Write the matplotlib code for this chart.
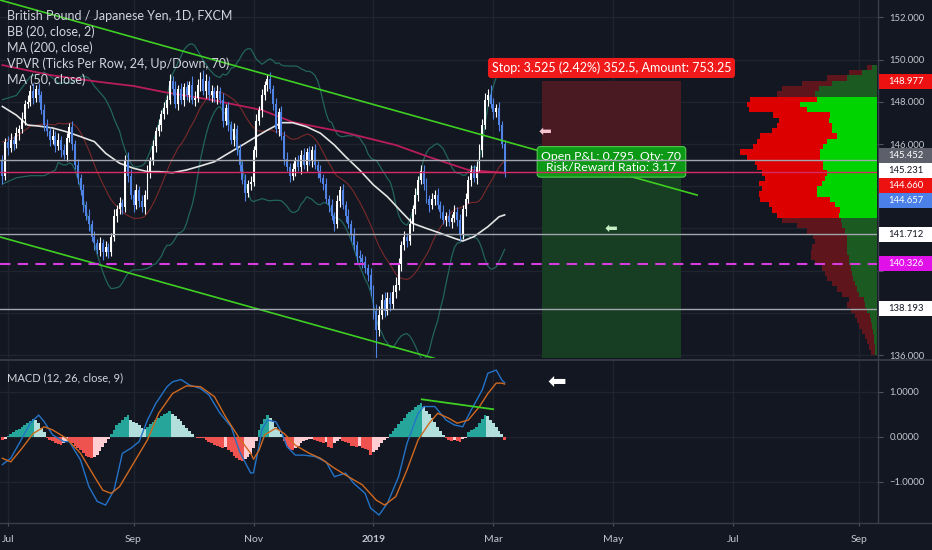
import numpy as np
import pandas as pd
import matplotlib
matplotlib.use('Agg')
import matplotlib.pyplot as plt
from matplotlib.patches import Rectangle
from matplotlib.lines import Line2D

plt.rcParams['font.family'] = ['Lato', 'DejaVu Sans']

# ---------------- data ----------------
open0 = 145.2
closes = [144.5, 146.1, 145.8, 146.2, 146.0, 146.5, 146.7, 147.2, 147.9, 148.0,
          148.5, 148.2, 148.6, 148.3, 147.6, 146.9, 146.6, 146.2, 146.4, 145.9,
          146.2, 145.7, 145.5, 146.3, 146.8, 146.0, 145.0, 144.4, 143.8, 143.1,
          142.6, 142.2, 141.6, 141.3, 141.0, 141.3, 140.9, 141.1, 140.9, 141.6,
          142.6, 142.9, 143.2, 143.0, 145.2, 144.5, 143.6, 143.1, 143.8, 143.3,
          143.0, 143.6, 144.7, 145.2, 145.9, 146.6, 146.9, 147.4, 147.7, 148.1,
          149.0, 148.6, 147.9, 148.6, 148.1, 148.7, 148.3, 148.8, 148.1, 148.2,
          148.8, 149.1, 148.5, 149.0, 148.3, 148.5, 148.2, 148.5, 148.1, 147.1,
          147.7, 146.9, 146.2, 146.7, 145.7, 145.0, 144.3, 143.7, 144.1, 144.2,
          145.7, 147.1, 147.6, 148.3, 148.8, 149.1, 148.6, 147.9, 146.7, 147.5,
          146.4, 145.3, 144.9, 144.5, 144.8, 145.2, 144.9, 145.5, 145.0, 145.6,
          145.2, 145.7, 145.0, 144.7, 144.4, 144.1, 143.4, 143.1, 142.6, 142.2,
          143.3, 143.8, 143.1, 142.6, 142.2, 141.7, 141.2, 140.7, 140.6, 140.4,
          140.1, 139.8, 139.1, 138.1, 137.2, 137.9, 138.6, 138.1, 138.7, 138.4,
          139.0, 139.3, 140.3, 141.2, 141.6, 141.4, 142.2, 142.9, 143.6, 144.3,
          144.7, 144.1, 143.4, 143.1, 143.4, 143.6, 143.1, 142.8, 142.4, 142.6,
          142.3, 142.5, 142.8, 142.4, 141.7, 142.9, 143.4, 144.3, 144.7, 144.4,
          144.9, 145.7, 146.9, 148.1, 148.3, 147.9, 147.5, 147.7, 146.9, 146.0,
          144.657]
wick_up = [0.3, 0.2, 0.3, 0.3, 0.2, 0.3, 0.2, 0.3, 0.2, 0.3,
           0.3, 0.4, 0.2, 0.3, 0.2, 0.3, 0.3, 0.2, 0.3, 0.2,
           0.3, 0.2, 0.3, 0.2, 0.2, 0.3, 0.2, 0.3, 0.2, 0.3,
           0.2, 0.3, 0.2, 0.3, 0.2, 0.3, 0.2, 0.3, 0.2, 0.2,
           0.3, 0.2, 0.3, 0.2, 0.3, 0.4, 0.3, 0.2, 0.3, 0.2,
           0.3, 0.2, 0.3, 0.2, 0.3, 0.2, 0.3, 0.2, 0.3, 0.2,
           0.3, 0.2, 0.4, 0.2, 0.3, 0.2, 0.3, 0.2, 0.4, 0.3,
           0.3, 0.3, 0.4, 0.3, 0.2, 0.3, 0.2, 0.3, 0.2, 0.3,
           0.2, 0.3, 0.2, 0.3, 0.2, 0.3, 0.2, 0.3, 0.2, 0.3,
           0.2, 0.3, 0.2, 0.3, 0.2, 0.2, 0.3, 0.2, 0.3, 0.2,
           0.3, 0.2, 0.3, 0.2, 0.3, 0.2, 0.3, 0.2, 0.3, 0.2,
           0.3, 0.2, 0.3, 0.2, 0.3, 0.2, 0.3, 0.2, 0.3, 0.2,
           0.3, 0.2, 0.3, 0.2, 0.3, 0.2, 0.3, 0.2, 0.3, 0.2,
           0.3, 0.2, 0.3, 0.2, 0.3, 0.4, 0.3, 0.4, 0.3, 0.3,
           0.3, 0.4, 0.3, 0.2, 0.3, 0.2, 0.3, 0.2, 0.3, 0.2,
           0.3, 0.3, 0.3, 0.2, 0.3, 0.2, 0.3, 0.2, 0.3, 0.2,
           0.3, 0.2, 0.3, 0.2, 0.3, 0.2, 0.3, 0.2, 0.3, 0.3,
           0.3, 0.3, 0.3, 0.3, 0.3, 0.5, 0.3, 0.2, 0.3, 0.2, 0.2]
wick_dn = [0.4, 0.2, 0.3, 0.2, 0.3, 0.2, 0.3, 0.2, 0.3, 0.2,
           0.2, 0.3, 0.2, 0.3, 0.2, 0.3, 0.2, 0.3, 0.2, 0.3,
           0.2, 0.3, 0.2, 0.3, 0.2, 0.3, 0.2, 0.3, 0.2, 0.3,
           0.2, 0.3, 0.2, 0.3, 0.2, 0.3, 0.4, 0.2, 0.3, 0.2,
           0.2, 0.3, 0.2, 0.3, 0.2, 0.3, 0.2, 0.3, 0.2, 0.3,
           0.2, 0.3, 0.2, 0.3, 0.2, 0.3, 0.2, 0.3, 0.2, 0.3,
           0.2, 0.3, 0.2, 0.3, 0.2, 0.3, 0.2, 0.3, 0.2, 0.3,
           0.2, 0.3, 0.2, 0.3, 0.2, 0.3, 0.2, 0.3, 0.2, 0.3,
           0.2, 0.3, 0.2, 0.3, 0.2, 0.3, 0.2, 0.4, 0.2, 0.3,
           0.2, 0.3, 0.2, 0.3, 0.2, 0.3, 0.2, 0.3, 0.2, 0.3,
           0.2, 0.3, 0.2, 0.3, 0.2, 0.3, 0.2, 0.3, 0.2, 0.3,
           0.2, 0.3, 0.2, 0.3, 0.2, 0.3, 0.2, 0.3, 0.2, 0.3,
           0.2, 0.3, 0.2, 0.3, 0.2, 0.3, 0.2, 0.3, 0.2, 0.3,
           0.2, 0.3, 0.3, 0.4, 2.5, 0.3, 0.2, 0.3, 0.2, 0.3,
           0.2, 0.3, 0.2, 0.3, 0.2, 0.3, 0.2, 0.3, 0.2, 0.3,
           0.2, 0.3, 0.2, 0.3, 0.2, 0.3, 0.2, 0.3, 0.2, 0.3,
           0.2, 0.3, 0.2, 0.3, 0.3, 0.2, 0.3, 0.2, 0.3, 0.2,
           0.3, 0.2, 0.3, 0.2, 0.3, 0.2, 0.3, 0.2, 0.3, 0.2, 0.2]

# moving averages (bar index, price)
ma50_k = [0, 5, 9, 13, 18, 23, 28, 33, 37, 42, 47, 52, 56, 61, 66, 71, 76, 80, 85, 90,
          95, 100, 104, 109, 114, 119, 123, 128, 133, 138, 143, 147, 152, 157, 162, 165,
          169, 174, 178, 180]
ma50_v = [147.78, 147.37, 146.90, 146.85, 146.76, 146.58, 146.35, 146.11, 145.56, 145.09,
          144.85, 144.69, 144.69, 144.64, 144.77, 144.96, 145.16, 145.48, 145.87, 146.27,
          146.66, 147.01, 147.01, 146.82, 146.51, 145.95, 145.40, 144.77, 144.06, 143.50,
          142.79, 142.24, 142.00, 141.77, 141.53, 141.40, 141.61, 142.08, 142.55, 142.64]
ma200_k = [0, 17, 35, 47, 58, 75, 93, 104, 122, 141, 153, 167, 180]
ma200_v = [149.74, 149.27, 148.94, 148.75, 148.46, 148.09, 147.61, 147.04, 146.57, 145.95,
           145.38, 144.77, 144.63]
# Bollinger band before the 20-bar window is full
bb_early_k = [0, 5, 10, 15]
bb_early_up = [148.1, 148.3, 149.2, 149.4]
bb_early_lo = [144.1, 144.4, 144.5, 144.5]

# channel lines (bar index, price)
chan_up_k, chan_up_p = [-1, 249], [152.83, 143.58]
chan_lo_k, chan_lo_p = [-1, 160], [141.60, 135.65]

# horizontal levels
grey_levels = [145.231, 141.712, 138.193]
entry_price = 144.660
stop_price = 148.977
target_price = 130.97
magenta_level = 140.326
last_price = 144.657
pos_k0, pos_k1 = 193.4, 243.2

# price-scale ticks and labels
price_ticks = [136, 138, 140, 142, 144, 146, 148, 150, 152]
lab_vals = [148.977, 145.452, 145.231, 144.660, 144.657, 141.712, 140.326, 138.193]
lab_bg = ['#ee1111', '#5d606b', '#ffffff', '#ee1111', '#4a80e8', '#ffffff', '#e010e8', '#ffffff']
lab_fg = ['#ffffff', '#ffffff', '#131722', '#ffffff', '#ffffff', '#131722', '#ffffff', '#131722']

# MACD
macd_k = [0, 3, 6, 10, 13, 15, 18, 22, 24, 28, 31, 34, 37, 40, 43, 46, 49, 52, 55, 59,
          61, 64, 67, 71, 74, 78, 82, 85, 89, 90, 91, 92, 93, 95, 98, 100, 102, 105, 108, 112,
          116, 119, 123, 126, 130, 132, 135, 138, 142, 145, 149, 151, 155, 159, 162, 165, 168,
          172, 174, 177, 179, 180]
macd_v = [-0.62, -0.48, -0.15, 0.30, 0.48, 0.33, 0.04, -0.11, -0.11, -0.52,
          -1.11, -1.44, -1.52, -1.19, -0.37, -0.26, -0.11, 0.37, 0.74, 1.11,
          1.22, 1.27, 1.15, 1.07, 0.93, 0.52, 0.22, -0.33, -0.81, -0.80,
          -0.50, -0.20, 0.15, 0.37, 0.33, 0.11, -0.22, -0.41, -0.41, -0.44,
          -0.56, -0.89, -0.81, -1.04, -1.26, -1.59, -1.74, -1.48, -0.89, -0.15,
          0.52, 0.67, 0.67, 0.37, 0.26, 0.22, 0.59, 1.04, 1.41, 1.48, 1.26, 1.20]
sig_k = [0, 3, 7, 11, 15, 18, 23, 28, 33, 36, 39, 42, 47, 52, 56, 61, 66, 71, 76, 80,
         85, 89, 90, 92, 94, 98, 101, 105, 110, 114, 119, 124, 129, 134, 137, 141, 145, 149,
         153, 156, 160, 163, 167, 171, 174, 177, 179, 180]
sig_v = [-0.48, -0.56, -0.26, 0.07, 0.22, 0.15, -0.04, -0.37, -0.89, -1.19,
         -1.26, -1.11, -0.59, -0.07, 0.52, 0.96, 1.13, 1.11, 0.89, 0.44,
         -0.04, -0.37, -0.50, -0.30, 0.04, 0.19, 0.07, -0.19, -0.37, -0.48,
         -0.70, -0.89, -1.07, -1.41, -1.52, -1.33, -0.74, -0.07, 0.30, 0.52,
         0.41, 0.30, 0.37, 0.67, 0.96, 1.19, 1.19, 1.17]
hist = [-0.07, -0.05, 0.02, 0.05, 0.10, 0.14, 0.18, 0.22, 0.27, 0.31,
        0.35, 0.40, 0.38, 0.30, 0.20, 0.10, -0.03, -0.07, -0.10, -0.14,
        -0.17, -0.19, -0.14, -0.10, -0.12, -0.15, -0.20, -0.25, -0.30, -0.36,
        -0.42, -0.46, -0.48, -0.46, -0.40, -0.32, -0.22, -0.13, -0.05, 0.05,
        0.15, 0.25, 0.30, 0.38, 0.44, 0.48, 0.38, 0.32, 0.30, 0.25,
        0.20, 0.18, 0.22, 0.28, 0.33, 0.38, 0.42, 0.46, 0.50, 0.53,
        0.56, 0.50, 0.46, 0.40, 0.34, 0.27, 0.20, 0.12, 0.05, -0.01,
        -0.02, -0.02, -0.04, -0.08, -0.12, -0.15, -0.18, -0.20, -0.22, -0.25,
        -0.22, -0.30, -0.35, -0.42, -0.48, -0.52, -0.55, -0.50, -0.45, -0.38,
        -0.25, -0.10, 0.15, 0.28, 0.40, 0.48, 0.42, 0.32, 0.22, 0.15,
        0.05, -0.10, -0.20, -0.27, -0.30, -0.25, -0.20, -0.15, -0.10, -0.08,
        -0.06, -0.05, -0.08, -0.10, -0.12, -0.15, -0.12, -0.22, -0.26, -0.15,
        -0.10, -0.06, -0.10, -0.12, -0.15, -0.20, -0.20, -0.22, -0.20, -0.25,
        -0.28, -0.30, -0.40, -0.35, -0.30, -0.22, -0.15, -0.08, -0.03, 0.05,
        0.12, 0.20, 0.28, 0.35, 0.42, 0.50, 0.55, 0.60, 0.65, 0.70,
        0.74, 0.66, 0.58, 0.50, 0.42, 0.32, 0.22, 0.12, 0.03, -0.04,
        -0.07, -0.09, -0.07, -0.10, -0.12, -0.06, -0.02, 0.10, 0.14, 0.18,
        0.22, 0.30, 0.40, 0.48, 0.45, 0.38, 0.30, 0.22, 0.12, 0.05, -0.08]
macd_trend_k, macd_trend_v = [150.3, 175.9], [0.83, 0.61]

# volume profile rows (row bottom price, total volume, up volume) in px-like units
vp_lo = [136.0, 136.25, 136.5, 136.75, 137.0, 137.25, 137.5, 137.75, 138.0, 138.25,
         138.5, 138.75, 139.0, 139.25, 139.5, 139.75, 140.0, 140.25, 140.5, 140.75,
         141.0, 141.25, 141.5, 141.75, 142.0, 142.25, 142.5, 142.75, 143.0, 143.25,
         143.5, 143.75, 144.0, 144.25, 144.5, 144.75, 145.0, 145.25, 145.5, 145.75,
         146.0, 146.25, 146.5, 146.75, 147.0, 147.25, 147.5, 147.75, 148.0, 148.25,
         148.5, 148.75, 149.0, 149.25, 149.5]
vp_total = [6, 8, 10, 12, 15, 18, 20, 22, 26, 30, 28, 35, 40, 45, 50, 52, 55, 62, 66, 66,
            65, 62, 64, 70, 80, 95, 100, 105, 108, 117, 118, 115, 118, 112, 115, 120, 122,
            130, 137, 124, 120, 117, 105, 100, 98, 104, 128, 130, 127, 100, 95, 75, 50, 28, 10]
vp_up = [2, 2, 3, 3, 4, 5, 6, 7, 10, 12, 13, 18, 20, 22, 24, 25, 26, 28, 28, 30,
         30, 30, 30, 32, 35, 36, 38, 37, 42, 47, 60, 60, 55, 52, 50, 54, 54, 57, 57, 54,
         50, 40, 45, 45, 48, 47, 70, 77, 60, 62, 58, 45, 30, 15, 5]
va_low, va_high = 142.5, 148.0

month_keys = [(2018, 7), (2018, 9), (2018, 11), (2019, 1), (2019, 3), (2019, 5), (2019, 7), (2019, 9)]
month_lbl = ['Jul', 'Sep', 'Nov', '2019', 'Mar', 'May', 'Jul', 'Sep']

# ---------------- figure ----------------
W, H = 932, 550
BG = '#131722'
GRID = '#20242f'
TXT = '#c3c6ce'

fig = plt.figure(figsize=(W / 100, H / 100), dpi=100, facecolor=BG)


def rect(x0, y0, x1, y1):
    return [x0 / W, 1 - y1 / H, (x1 - x0) / W, (y1 - y0) / H]


ax = fig.add_axes(rect(0, 0, 877, 358))
axm = fig.add_axes(rect(0, 360, 877, 522), sharex=ax)
for a in (ax, axm):
    a.set_facecolor(BG)
    for s in a.spines.values():
        s.set_visible(False)
    a.set_axisbelow(True)

dates = pd.bdate_range('2018-06-28', '2019-10-31')
tick_pos = [int(np.where((dates.year == y) & (dates.month == m))[0][0]) for y, m in month_keys]

n = min(len(closes), len(wick_up), len(wick_dn))
c = np.array(closes[:n])
o = np.array([open0] + closes[:n - 1])
hi = np.maximum(o, c) + np.array(wick_up[:n])
lo = np.minimum(o, c) - np.array(wick_dn[:n])
xs = np.arange(n)
up = c >= o
UPC, DNC = '#ffffff', '#4f83e6'
cols = np.where(up, UPC, DNC)

ax.set_xlim(-0.86, 313.47)
ax.set_ylim(135.858, 152.825)
axm.set_ylim(-1.896, 1.704)

# price-axis pixel scale, used to hide tick texts that the price labels cover
px_per_unit = ax.transData.transform((0, 1))[1] - ax.transData.transform((0, 0))[1]


def covered(v):
    return any(abs(v - lv) * px_per_unit < 11 for lv in lab_vals)


# grid
ax.set_xticks(tick_pos)
ax.set_yticks(price_ticks)
ax.set_yticklabels(['' if covered(v) else f'{v:.3f}' for v in price_ticks])
ax.grid(True, color=GRID, lw=1)
axm.set_yticks([1, 0, -1])
axm.set_yticklabels(['1.0000', '0.0000', '\u22121.0000'])
axm.grid(True, color=GRID, lw=1)

for a in (ax, axm):
    a.yaxis.tick_right()
    a.tick_params(axis='y', length=4, width=0.8, color='#50535e', labelsize=6.8,
                  labelcolor=TXT, pad=5)
ax.tick_params(axis='x', bottom=False, labelbottom=False)
axm.set_xticklabels(month_lbl)
axm.tick_params(axis='x', length=3, width=0.8, color='#50535e', labelsize=7.5,
                labelcolor=TXT, pad=6)
for t in axm.get_xticklabels():
    if t.get_text() == '2019':
        t.set_fontweight('bold')

# position tool boxes
ax.add_patch(Rectangle((pos_k0, entry_price), pos_k1 - pos_k0, stop_price - entry_price,
                       fc='#4a1a23', ec='none', zorder=1))
ax.add_patch(Rectangle((pos_k0, target_price), pos_k1 - pos_k0, entry_price - target_price,
                       fc='#173d22', ec='none', zorder=1))

# Bollinger bands
s = pd.Series(c)
mid = s.rolling(20).mean()
sd = s.rolling(20).std(ddof=0)
bb_u = mid + 2 * sd
bb_l = mid - 2 * sd
kk = list(bb_early_k) + list(xs[19:])
uu = list(bb_early_up) + list(bb_u.values[19:])
ll = list(bb_early_lo) + list(bb_l.values[19:])
mm = [(a + b) / 2 for a, b in zip(bb_early_up, bb_early_lo)] + list(mid.values[19:])
ax.plot(kk, uu, color='#22645c', lw=0.9, zorder=2)
ax.plot(kk, ll, color='#22645c', lw=0.9, zorder=2)
ax.plot(kk, mm, color='#7a2a2a', lw=0.8, zorder=2)

ax.plot(ma200_k, ma200_v, color='#b81d5a', lw=1.3, zorder=2)
ax.plot(ma50_k, ma50_v, color='#e4e4e4', lw=1.2, zorder=2)

# candles
ax.vlines(xs, lo, hi, colors=cols, lw=0.8, zorder=3)
body = np.maximum(np.abs(c - o), 0.04)
ax.bar(xs, body, bottom=np.minimum(o, c), width=0.7, color=cols, lw=0, zorder=4)

# channel lines
ax.plot(chan_up_k, chan_up_p, color='#3ecf22', lw=1.2, zorder=5)
ax.plot(chan_lo_k, chan_lo_p, color='#3ecf22', lw=1.2, zorder=5)

# labels of position tool
cx = (pos_k0 + pos_k1) / 2
ax.annotate('Stop: 3.525 (2.42%) 352.5, Amount: 753.25', xy=(cx, stop_price),
            xytext=(0, 5), textcoords='offset points', ha='center', va='bottom',
            fontsize=9.0, color='white', zorder=8,
            bbox=dict(boxstyle='round,pad=0.3,rounding_size=0.25', fc='#f01a1a', ec='none'))
ax.annotate('Open P&L: 0.795, Qty: 70\nRisk/Reward Ratio: 3.17', xy=(cx, entry_price),
            xytext=(0, 7.5), textcoords='offset points', ha='center', va='center',
            fontsize=8.8, color='white', linespacing=1.0, multialignment='center', zorder=8,
            bbox=dict(boxstyle='round,pad=0.35,rounding_size=0.25', fc='#0c9a16', ec='#52c852', lw=0.8))

# arrows
ax.text(194.5, 146.6, '\u2b05', color='#f6c4cf', fontsize=11, ha='center', va='center',
        family=['DejaVu Sans'], zorder=8)
ax.text(218.0, 142.0, '\u2b05', color='#c8efc4', fontsize=11, ha='center', va='center',
        family=['DejaVu Sans'], zorder=8)
axm.text(198.8, 1.22, '\u2b05', color='#ffffff', fontsize=16, ha='center', va='center',
         family=['DejaVu Sans'], zorder=8)

# volume profile overlay
axv = fig.add_axes(ax.get_position().bounds, sharey=ax)
axv.set_xlim(877, 0)
axv.set_axis_off()
axv.patch.set_visible(False)
for lo_p, tot, u in zip(vp_lo, vp_total, vp_up):
    inva = va_low <= lo_p <= va_high
    gcol = '#00d400' if inva else '#1b5a20'
    rcol = '#dd0000' if inva else '#5e161c'
    axv.barh(lo_p, u, left=0, height=0.25, align='edge', color=gcol, lw=0, zorder=2)
    axv.barh(lo_p, tot - u, left=u, height=0.25, align='edge', color=rcol, lw=0, zorder=2)

for lv in grey_levels:
    axv.axhline(lv, color='#a3a6af', lw=1.0, zorder=5)
axv.axhline(entry_price, color='#d62a64', lw=1.0, zorder=5)
axv.axhline(magenta_level, color='#d63ce0', lw=1.5, ls=(0, (5, 3.5)), zorder=5)

# MACD pane
hc = []
for i, h in enumerate(hist):
    p = hist[i - 1] if i > 0 else h
    if h >= 0:
        hc.append('#26a69a' if h > p else '#b2dfdb')
    else:
        hc.append('#ef5350' if h <= p else '#ffcdd2')
axm.bar(np.arange(len(hist)), hist, width=1.0, color=hc, lw=0, zorder=2)
axm.plot(macd_k, macd_v, color='#2373c8', lw=1.0, zorder=3)
axm.plot(sig_k, sig_v, color='#d0691f', lw=1.0, zorder=3)
axm.plot(macd_trend_k, macd_trend_v, color='#3ecf22', lw=1.3, zorder=4)

# legends
leg = ['British Pound / Japanese Yen, 1D, FXCM', 'BB (20, close, 2)', 'MA (200, close)',
       'VPVR (Ticks Per Row, 24, Up/Down, 70)', 'MA (50, close)']
for i, t in enumerate(leg):
    fig.text(7 / W, 1 - (15.7 + 16.1 * i) / H, t, va='center', ha='left',
             fontsize=9.0, color='#d1d4dc')
fig.text(7 / W, 1 - 378 / H, 'MACD (12, 26, close, 9)', va='center', ha='left',
         fontsize=8.0, color='#d1d4dc')

# frame lines
lc = '#3a3e4a'
fig.add_artist(Line2D([0, 1], [1 - 359.5 / H] * 2, color=lc, lw=1.2))
fig.add_artist(Line2D([0, 1], [1 - 522.5 / H] * 2, color=lc, lw=1.0))
fig.add_artist(Line2D([877.5 / W] * 2, [1 - 522.5 / H, 1], color=lc, lw=1.0))

# price-scale labels with simple de-overlap
order = np.argsort(lab_vals)[::-1]
prev = None
for i in order:
    yd = ax.transData.transform((0, lab_vals[i]))[1]
    if prev is not None and yd > prev - 15:
        yd = prev - 15
    prev = yd
    fig.add_artist(Rectangle((879 / W, (yd - 7.5) / H), 53 / W, 15 / H,
                             transform=fig.transFigure, fc=lab_bg[i], ec='none', zorder=6))
    fig.text(888 / W, yd / H, f'{lab_vals[i]:.3f}', va='center', ha='left', fontsize=6.8,
             color=lab_fg[i], zorder=7)

fig.savefig('out.png', dpi=100, facecolor=BG)
